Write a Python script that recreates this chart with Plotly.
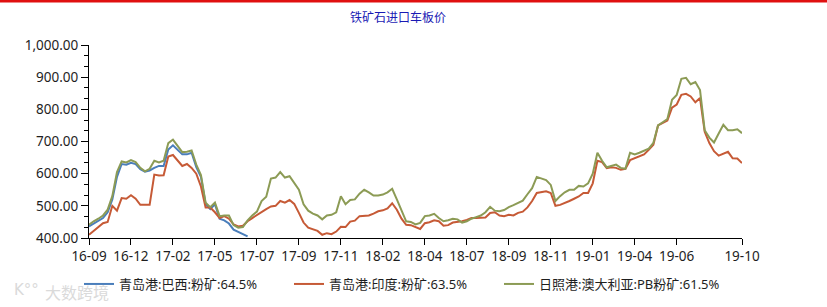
import plotly.graph_objects as go

# ---------------- data ----------------
tick_labels = ["16-09", "16-12", "17-02", "17-05", "17-07", "17-09", "17-11", "18-02",
               "18-04", "18-07", "18-09", "18-11", "19-01", "19-04", "19-06", "19-10"]
tick_index = [0, 9, 18, 27, 36, 45, 54, 63, 72, 81, 90, 99, 108, 117, 126, 140]

brazil_645 = [436, 445, 452, 462, 480, 520, 590, 630, 628, 634, 630, 614, 606, 610, 618,
              624, 624, 675, 688, 674, 660, 660, 665, 620, 590, 505, 490, 505, 460, 455,
              445, 426, 418, 412, 405]

india_635 = [410, 422, 435, 446, 450, 500, 485, 524, 522, 533, 522, 503, 503, 503, 597,
             594, 595, 653, 658, 640, 624, 630, 618, 600, 560, 495, 495, 480, 462, 468,
             460, 442, 436, 438, 452, 462, 472, 480, 490, 498, 500, 515, 510, 518, 506,
             478, 448, 432, 426, 422, 410, 415, 412, 420, 435, 434, 451, 454, 468, 468,
             470, 476, 483, 486, 492, 508, 488, 460, 441, 440, 434, 428, 446, 449, 455,
             452, 438, 440, 448, 449, 452, 456, 462, 462, 462, 464, 478, 480, 470, 468,
             472, 470, 478, 482, 495, 515, 540, 542, 545, 540, 500, 503, 508, 515, 522,
             529, 540, 540, 570, 640, 636, 617, 620, 618, 612, 615, 642, 648, 654, 660,
             674, 690, 750, 758, 765, 805, 815, 845, 848, 840, 822, 835, 730, 695, 670,
             656, 662, 668, 648, 647, 633]

rizhao_pb_615 = [441, 452, 460, 470, 488, 530, 605, 638, 635, 642, 636, 618, 607, 615, 640,
                 635, 640, 695, 706, 688, 667, 668, 672, 628, 596, 510, 496, 510, 468, 470,
                 470, 440, 432, 434, 455, 470, 482, 515, 528, 585, 588, 605, 588, 592, 572,
                 550, 505, 485, 476, 470, 458, 470, 472, 480, 530, 505, 518, 520, 538, 550,
                 542, 532, 532, 535, 542, 553, 520, 488, 452, 450, 442, 447, 468, 470, 475,
                 462, 452, 455, 460, 458, 448, 452, 460, 465, 470, 480, 497, 485, 483, 487,
                 496, 502, 508, 516, 536, 555, 590, 584, 580, 565, 515, 530, 542, 550, 550,
                 562, 560, 570, 600, 665, 640, 620, 625, 628, 618, 615, 665, 660, 665, 672,
                 678, 696, 750, 760, 770, 830, 845, 895, 898, 878, 885, 860, 735, 712, 697,
                 725, 752, 735, 735, 738, 726]

series_names = ["青岛港:巴西:粉矿:64.5%", "青岛港:印度:粉矿:63.5%", "日照港:澳大利亚:PB粉矿:61.5%"]
series_values = [brazil_645, india_635, rizhao_pb_615]
series_colors = ["#4A7EBB", "#C65A36", "#8C9B55"]

title_text = "铁矿石进口车板价"
watermark_text = "大数跨境"

# ---------------- figure ----------------
W, H = 827, 307
ML, MR, MT, MB = 89, 85, 45, 69
PW, PH = W - ML - MR, H - MT - MB

legend_ids = ["legend", "legend2", "legend3"]
legend_x = [79, 289, 499]

fig = go.Figure()
for name, vals, col, lid in zip(series_names, series_values, series_colors, legend_ids):
    fig.add_trace(go.Scatter(
        x=list(range(len(vals))), y=vals, mode="lines", name=name, legend=lid,
        line=dict(color=col, width=2), hoverinfo="skip"))

axis_font = dict(family="Noto Sans, Noto Sans CJK SC, sans-serif", size=13.5, color="#1E1E1E")
legend_font = dict(family="Noto Sans, Noto Sans CJK SC, sans-serif", size=13, color="#1E1E1E")

legend_layout = {}
for lid, lx in zip(legend_ids, legend_x):
    legend_layout[lid] = dict(orientation="h", x=lx / W, xref="container", xanchor="left",
                              y=1 - 284 / H, yref="container", yanchor="middle",
                              font=legend_font, itemwidth=30,
                              bgcolor="rgba(0,0,0,0)")

fig.update_layout(
    width=W, height=H,
    margin=dict(l=ML, r=MR, t=MT, b=MB, pad=0, autoexpand=False),
    paper_bgcolor="white", plot_bgcolor="white",
    showlegend=True,
    title=dict(text=title_text, x=398 / W, xref="container", xanchor="center",
               y=1 - 18 / H, yref="container", yanchor="middle",
               font=dict(family="Noto Sans CJK SC, sans-serif", size=12, color="#1A1AB4")),
    xaxis=dict(range=[0, 140], tickmode="array", tickvals=tick_index, ticktext=tick_labels,
               showgrid=False, zeroline=False, showline=True, linecolor="black", linewidth=1,
               ticks="outside", ticklen=6, tickcolor="black", tickfont=axis_font,
               automargin=False, fixedrange=True),
    yaxis=dict(range=[400, 1000], tick0=400, dtick=100, tickformat=",.2f",
               showgrid=False, zeroline=False, showline=True, linecolor="black", linewidth=1,
               ticks="outside", ticklen=7, tickcolor="black", tickfont=axis_font,
               minor=dict(tick0=400, dtick=100 / 3, ticks="outside", ticklen=4,
                          tickcolor="black", showgrid=False),
               automargin=False, fixedrange=True),
    **legend_layout,
)

# red rule along the top edge of the page
fig.add_shape(type="rect", xref="paper", yref="paper",
              x0=-ML / PW, x1=1 + MR / PW,
              y0=1 + (MT - 2.5) / PH, y1=1 + (MT + 0.5) / PH,
              fillcolor="#E01010", line=dict(width=0), layer="above")

# faint watermark at bottom-left
fig.add_annotation(text=watermark_text, xref="paper", yref="paper",
                   x=(43 - ML) / PW, y=-(292 - (MT + PH)) / PH,
                   xanchor="left", yanchor="middle", showarrow=False,
                   font=dict(family="Noto Sans CJK SC, sans-serif", size=16, color="#DADADA"))
fig.add_annotation(text="K°°", xref="paper", yref="paper",
                   x=(12 - ML) / PW, y=-(290 - (MT + PH)) / PH,
                   xanchor="left", yanchor="middle", showarrow=False,
                   font=dict(family="DejaVu Sans, sans-serif", size=15, color="#DADADA"))

fig.write_html("out.html")
